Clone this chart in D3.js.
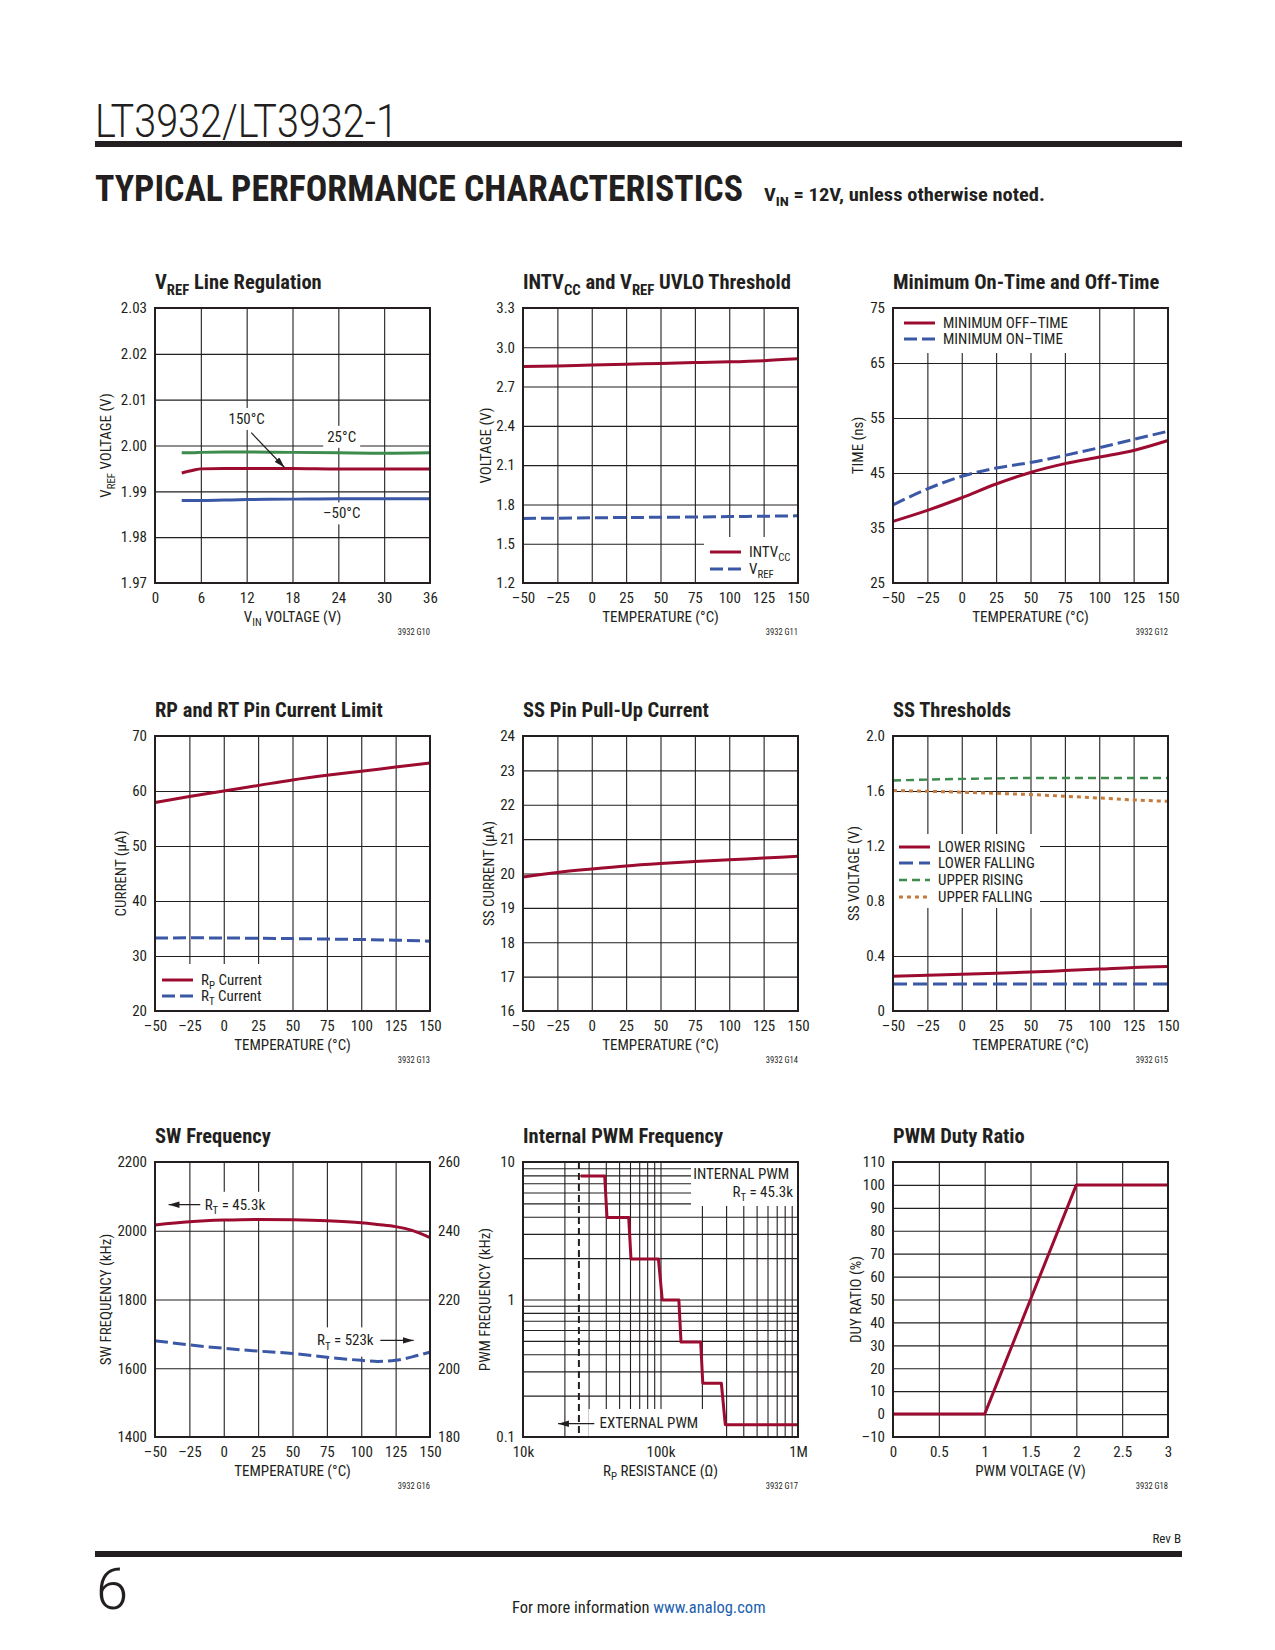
<!DOCTYPE html>
<html>
<head>
<meta charset="utf-8">
<script src="https://cdn.jsdelivr.net/npm/d3@7"></script>
<style>
  body { margin: 0; background: #fff; }
  text { font-family: "Liberation Sans Narrow", "Roboto Condensed", "DejaVu Sans Condensed", "Liberation Sans", sans-serif; fill: #231f20; }
</style>
</head>
<body>
<script>
// ---------- values ----------
// G10 VREF line regulation
const vinTicks = [0, 6, 12, 18, 24, 30, 36];
const vrefTicks = [1.97, 1.98, 1.99, 2.00, 2.01, 2.02, 2.03];
const vin = [3.5, 5, 6, 9, 12, 18, 24, 30, 36];
const vref150C = [1.9940, 1.9946, 1.9949, 1.9950, 1.9950, 1.9950, 1.9949, 1.9949, 1.9949];
const vref25C = [1.9984, 1.9984, 1.9985, 1.9986, 1.9986, 1.9985, 1.9984, 1.9983, 1.9984];
const vrefM50C = [1.9880, 1.9880, 1.9880, 1.9881, 1.9882, 1.9883, 1.9884, 1.9884, 1.9884];

// shared temperature axis
const tempTicks = [-50, -25, 0, 25, 50, 75, 100, 125, 150];
const temps = [-50, -25, 0, 25, 50, 75, 100, 125, 150];

// G11 UVLO thresholds
const uvloTicks = [1.2, 1.5, 1.8, 2.1, 2.4, 2.7, 3.0, 3.3];
const intvccUvlo = [2.853, 2.858, 2.865, 2.871, 2.877, 2.883, 2.889, 2.898, 2.912];
const vrefUvlo = [1.693, 1.695, 1.698, 1.700, 1.702, 1.704, 1.707, 1.710, 1.713];

// G12 min on/off time
const timeTicks = [25, 35, 45, 55, 65, 75];
const offTime = [36.2, 38.2, 40.5, 43.0, 45.1, 46.7, 47.9, 49.1, 50.9];
const onTime = [39.2, 42.1, 44.4, 45.9, 46.9, 48.2, 49.6, 51.1, 52.6];

// G13 RP / RT current limit
const currentTicks = [20, 30, 40, 50, 60, 70];
const rpCurrent = [57.9, 59.0, 60.0, 61.0, 62.0, 62.85, 63.6, 64.35, 65.1];
const rtCurrent = [33.28, 33.3, 33.28, 33.22, 33.16, 33.08, 33.0, 32.88, 32.7];

// G14 SS pull-up current
const ssCurrentTicks = [16, 17, 18, 19, 20, 21, 22, 23, 24];
const ssCurrent = [19.9, 20.03, 20.13, 20.22, 20.29, 20.35, 20.4, 20.45, 20.5];

// G15 SS thresholds
const ssVoltTicks = [0, 0.4, 0.8, 1.2, 1.6, 2.0];
const lowerRising = [0.253, 0.260, 0.268, 0.275, 0.283, 0.294, 0.305, 0.317, 0.324];
const lowerFalling = [0.197, 0.197, 0.197, 0.197, 0.197, 0.197, 0.197, 0.197, 0.197];
const upperRising = [1.676, 1.683, 1.688, 1.692, 1.695, 1.695, 1.695, 1.695, 1.695];
const upperFalling = [1.603, 1.598, 1.591, 1.583, 1.574, 1.562, 1.549, 1.535, 1.525];

// G16 SW frequency (left axis RT=45.3k, right axis RT=523k)
const swTicksL = [1400, 1600, 1800, 2000, 2200];
const swTicksR = [180, 200, 220, 240, 260];
const swTemps = [-50, -25, 0, 25, 50, 75, 100, 112, 125, 137, 150];
const sw45k = [2017, 2026, 2031, 2033, 2032, 2029, 2023, 2018, 2012, 2001, 1980];
const sw523k = [208.0, 206.8, 205.8, 205.0, 204.3, 203.2, 202.3, 202.0, 202.3, 203.3, 204.7];

// G17 internal PWM frequency
const pwmRTicks = [1e4, 1e5, 1e6];
const pwmRLabels = ["10k", "100k", "1M"];
const pwmFTicks = [0.1, 1, 10];
const pwmFLabels = ["0.1", "1", "10"];
const pwmR = [26.3e3, 39.3e3, 40.8e3, 58.7e3, 61e3, 96.6e3, 103e3, 136e3, 141e3, 196e3, 203e3, 277e3, 296e3, 1e6];
const pwmF = [7.9, 7.9, 3.95, 3.95, 1.97, 1.97, 0.99, 0.99, 0.49, 0.49, 0.246, 0.246, 0.123, 0.123];
const extPwmR = 25.5e3;

// G18 PWM duty ratio
const pwmVTicks = [0, 0.5, 1, 1.5, 2, 2.5, 3];
const dutyTicks = [-10, 0, 10, 20, 30, 40, 50, 60, 70, 80, 90, 100, 110];
const pwmV = [0, 1, 2, 3];
const duty = [0, 0, 100, 100];

// ---------- page ----------
const RED = "#9c0c30", BLUE = "#3b58a6", GREEN = "#3d8b4d", ORANGE = "#c67a3c", INK = "#231f20";
const W = 275, H = 275;
const FS = 15;            // tick / legend / axis title size
const colX = [155, 523, 893], rowY = [308, 736, 1162];
const fmtT = v => (v < 0 ? "\u2013" + Math.abs(v) : String(v));

const svg = d3.select("body").append("svg").attr("width", 1275).attr("height", 1650);

svg.append("defs").append("marker")
  .attr("id", "arr").attr("viewBox", "0 0 10 6").attr("refX", 10).attr("refY", 3)
  .attr("markerWidth", 11).attr("markerHeight", 6.5).attr("markerUnits", "userSpaceOnUse").attr("orient", "auto")
  .append("path").attr("d", "M0,0L10,3L0,6Z").attr("fill", INK);

// header
svg.append("text").attr("x", 95).attr("y", 137).text("LT3932/LT3932-1")
  .style("font-family", "Roboto, 'Liberation Sans', sans-serif").attr("font-weight", 300).attr("font-size", 46)
  .attr("textLength", 303).attr("lengthAdjust", "spacingAndGlyphs");
svg.append("rect").attr("x", 95).attr("y", 141).attr("width", 1087).attr("height", 6).attr("fill", INK);
svg.append("text").attr("x", 95).attr("y", 201).text("TYPICAL PERFORMANCE CHARACTERISTICS")
  .attr("font-weight", "bold").attr("font-size", 37)
  .attr("textLength", 648).attr("lengthAdjust", "spacingAndGlyphs");
const sub1 = svg.append("text").attr("x", 764).attr("y", 201).attr("font-weight", "bold").attr("font-size", 18.5)
  .attr("textLength", 281).attr("lengthAdjust", "spacingAndGlyphs");
rich(sub1, ["V", { s: "IN" }, " = 12V, unless otherwise noted."], 18.5);

// footer
svg.append("text").attr("x", 1181).attr("y", 1543).attr("text-anchor", "end").attr("font-size", 13).text("Rev B");
svg.append("rect").attr("x", 95).attr("y", 1551).attr("width", 1087).attr("height", 6).attr("fill", INK);
svg.append("text").attr("x", 96).attr("y", 1609).text("6")
  .style("font-family", "Roboto, 'Liberation Sans', sans-serif").attr("font-weight", 300).attr("font-size", 58);
const foot = svg.append("text").attr("x", 512).attr("y", 1613).attr("font-size", 16.5);
foot.append("tspan").text("For more information ");
foot.append("tspan").text("www.analog.com").style("fill", "#1d5fae");

// ---------- helpers ----------
function rich(t, parts, size) {
  let down = false;
  parts.forEach(p => {
    const isSub = typeof p === "object";
    const ts = t.append("tspan").text(isSub ? p.s : p);
    if (isSub) {
      ts.attr("font-size", size * 0.72);
      if (!down) ts.attr("dy", size * 0.28);
      down = true;
    } else if (down) {
      ts.attr("dy", -size * 0.28);
      down = false;
    }
  });
  return t;
}

function panel(col, row, x, y) {
  x.range([0, W]);
  y.range([H, 0]);
  const g = svg.append("g").attr("transform", `translate(${colX[col]},${rowY[row]})`);
  return { g, x, y, grid: g.append("g"), mask: g.append("g"), data: g.append("g"), anno: g.append("g") };
}

function grid(p, xv, yv) {
  p.grid.append("g").attr("transform", `translate(0,${H})`)
    .call(d3.axisBottom(p.x).tickValues(xv).tickSize(-H).tickFormat(""));
  p.grid.append("g").call(d3.axisLeft(p.y).tickValues(yv).tickSize(-W).tickFormat(""));
  p.grid.selectAll(".domain").remove();
  p.grid.selectAll("line").attr("stroke", INK).attr("stroke-width", 1.1);
}

function axes(p, xv, xf, yv, yf) {
  const gx = p.g.append("g").attr("transform", `translate(0,${H})`)
    .call(d3.axisBottom(p.x).tickValues(xv).tickFormat(xf).tickSize(0).tickPadding(9));
  const gy = p.g.append("g").call(d3.axisLeft(p.y).tickValues(yv).tickFormat(yf).tickSize(0).tickPadding(8));
  [gx, gy].forEach(a => {
    a.select(".domain").remove();
    a.attr("font-family", null).attr("font-size", FS);
    a.selectAll("text").style("fill", INK);
  });
  return gy;
}

function frame(p) {
  p.g.append("rect").attr("width", W).attr("height", H)
    .attr("fill", "none").attr("stroke", INK).attr("stroke-width", 2);
}

function labels(p, title, xTitle, yTitle, yOff, code) {
  rich(p.g.append("text").attr("x", 0).attr("y", -19).attr("font-weight", "bold").attr("font-size", 20.5), title, 20.5);
  rich(p.g.append("text").attr("x", W / 2).attr("y", H + 39).attr("text-anchor", "middle").attr("font-size", FS), xTitle, FS);
  rich(p.g.append("text").attr("transform", `translate(${yOff},${H / 2}) rotate(-90)`)
    .attr("text-anchor", "middle").attr("dy", "0.35em").attr("font-size", FS), yTitle, FS);
  p.g.append("text").attr("x", W).attr("y", H + 52).attr("text-anchor", "end").attr("font-size", 8.5).text(code);
}

function curve(p, xs, ys, color, opts = {}) {
  const ys2 = opts.y || p.y;
  const line = d3.line()
    .x(d => p.x(xs[d]))
    .y(d => ys2(ys[d]))
    .curve(opts.curve || d3.curveMonotoneX);
  p.data.append("path").attr("d", line(d3.range(xs.length)))
    .attr("fill", "none").attr("stroke", color)
    .attr("stroke-width", opts.width || 3)
    .attr("stroke-dasharray", opts.dash || null)
    .attr("stroke-linejoin", "round");
}

// label in data coordinates, with a white box behind it that hides the grid
function note(p, xv, yv, parts, anchor, pad) {
  const t = p.anno.append("text").attr("x", p.x(xv)).attr("y", p.y(yv))
    .attr("text-anchor", anchor || "start").attr("font-size", FS);
  rich(t, parts, FS);
  const b = t.node().getBBox();
  const pd = pad || [4, 2, 4, 2];
  p.mask.append("rect").attr("x", b.x - pd[0]).attr("y", b.y - pd[1])
    .attr("width", b.width + pd[0] + pd[2]).attr("height", b.height + pd[1] + pd[3]).attr("fill", "#fff");
  return t;
}

function arrow(p, x1, y1, x2, y2, ys) {
  const yy = ys || p.y;
  p.anno.append("line").attr("x1", p.x(x1)).attr("y1", yy(y1)).attr("x2", p.x(x2)).attr("y2", yy(y2))
    .attr("stroke", INK).attr("stroke-width", 1.2).attr("marker-end", "url(#arr)");
}

// legend box (layout in panel pixels)
function legend(p, box, rows) {
  p.mask.append("rect").attr("x", box[0]).attr("y", box[1]).attr("width", box[2]).attr("height", box[3]).attr("fill", "#fff");
  rows.forEach(r => {
    p.anno.append("line").attr("x1", r.x).attr("x2", r.x + 31).attr("y1", r.y).attr("y2", r.y)
      .attr("stroke", r.color).attr("stroke-width", r.width || 3).attr("stroke-dasharray", r.dash || null);
    rich(p.anno.append("text").attr("x", r.x + 39).attr("y", r.y + 5).attr("font-size", FS), r.text, FS);
  });
}

const inner = a => a.slice(1, -1);

// ---------- G10 ----------
{
  const p = panel(0, 0, d3.scaleLinear().domain([0, 36]), d3.scaleLinear().domain([1.97, 2.03]));
  grid(p, inner(vinTicks), inner(vrefTicks));
  axes(p, vinTicks, d3.format("d"), vrefTicks, d3.format(".2f"));
  curve(p, vin, vref25C, GREEN);
  curve(p, vin, vref150C, RED);
  curve(p, vin, vrefM50C, BLUE);
  note(p, 12.0, 2.0047, ["150°C"], "middle");
  arrow(p, 12.6, 2.0028, 16.95, 1.9952);
  note(p, 24.44, 2.0008, ["25°C"], "middle");
  note(p, 24.44, 1.9841, ["\u201350°C"], "middle");
  frame(p);
  labels(p, ["V", { s: "REF" }, " Line Regulation"], ["V", { s: "IN" }, " VOLTAGE (V)"], ["V", { s: "REF" }, " VOLTAGE (V)"], -49, "3932 G10");
}

// ---------- G11 ----------
{
  const p = panel(1, 0, d3.scaleLinear().domain([-50, 150]), d3.scaleLinear().domain([1.2, 3.3]));
  grid(p, inner(tempTicks), inner(uvloTicks));
  axes(p, tempTicks, fmtT, uvloTicks, d3.format(".1f"));
  curve(p, temps, intvccUvlo, RED);
  curve(p, temps, vrefUvlo, BLUE, { dash: "13,5" });
  legend(p, [181, 229, 94, 46], [
    { x: 187, y: 244, color: RED, text: ["INTV", { s: "CC" }] },
    { x: 187, y: 261, color: BLUE, dash: "13,5", text: ["V", { s: "REF" }] }
  ]);
  frame(p);
  labels(p, ["INTV", { s: "CC" }, " and V", { s: "REF" }, " UVLO Threshold"], ["TEMPERATURE (°C)"], ["VOLTAGE (V)"], -37, "3932 G11");
}

// ---------- G12 ----------
{
  const p = panel(2, 0, d3.scaleLinear().domain([-50, 150]), d3.scaleLinear().domain([25, 75]));
  grid(p, inner(tempTicks), inner(timeTicks));
  axes(p, tempTicks, fmtT, timeTicks, d3.format("d"));
  curve(p, temps, offTime, RED);
  curve(p, temps, onTime, BLUE, { dash: "13,5" });
  legend(p, [0, 0, 182, 45], [
    { x: 11, y: 15, color: RED, text: ["MINIMUM OFF\u2013TIME"] },
    { x: 11, y: 31, color: BLUE, dash: "13,5", text: ["MINIMUM ON\u2013TIME"] }
  ]);
  frame(p);
  labels(p, ["Minimum On-Time and Off-Time"], ["TEMPERATURE (°C)"], ["TIME (ns)"], -35, "3932 G12");
}

// ---------- G13 ----------
{
  const p = panel(0, 1, d3.scaleLinear().domain([-50, 150]), d3.scaleLinear().domain([20, 70]));
  grid(p, inner(tempTicks), inner(currentTicks));
  axes(p, tempTicks, fmtT, currentTicks, d3.format("d"));
  curve(p, temps, rpCurrent, RED);
  curve(p, temps, rtCurrent, BLUE, { dash: "13,5" });
  legend(p, [0, 228, 119, 47], [
    { x: 7, y: 244, color: RED, text: ["R", { s: "P" }, " Current"] },
    { x: 7, y: 260, color: BLUE, dash: "13,5", text: ["R", { s: "T" }, " Current"] }
  ]);
  frame(p);
  labels(p, ["RP and RT Pin Current Limit"], ["TEMPERATURE (°C)"], ["CURRENT (\u03bcA)"], -34, "3932 G13");
}

// ---------- G14 ----------
{
  const p = panel(1, 1, d3.scaleLinear().domain([-50, 150]), d3.scaleLinear().domain([16, 24]));
  grid(p, inner(tempTicks), inner(ssCurrentTicks));
  axes(p, tempTicks, fmtT, ssCurrentTicks, d3.format("d"));
  curve(p, temps, ssCurrent, RED);
  frame(p);
  labels(p, ["SS Pin Pull-Up Current"], ["TEMPERATURE (°C)"], ["SS CURRENT (\u03bcA)"], -34, "3932 G14");
}

// ---------- G15 ----------
{
  const p = panel(2, 1, d3.scaleLinear().domain([-50, 150]), d3.scaleLinear().domain([0, 2]));
  grid(p, inner(tempTicks), inner(ssVoltTicks));
  axes(p, tempTicks, fmtT, ssVoltTicks, v => (v === 0 ? "0" : d3.format(".1f")(v)));
  curve(p, temps, upperRising, GREEN, { dash: "8,5", width: 2.4 });
  curve(p, temps, upperFalling, ORANGE, { dash: "4,4" });
  curve(p, temps, lowerRising, RED);
  curve(p, temps, lowerFalling, BLUE, { dash: "14,6" });
  legend(p, [0, 98, 147, 74], [
    { x: 6, y: 111, color: RED, text: ["LOWER RISING"] },
    { x: 6, y: 127, color: BLUE, dash: "14,6", text: ["LOWER FALLING"] },
    { x: 6, y: 144, color: GREEN, dash: "8,5", width: 2.4, text: ["UPPER RISING"] },
    { x: 6, y: 161, color: ORANGE, dash: "4,4", text: ["UPPER FALLING"] }
  ]);
  frame(p);
  labels(p, ["SS Thresholds"], ["TEMPERATURE (°C)"], ["SS VOLTAGE (V)"], -39, "3932 G15");
}

// ---------- G16 ----------
{
  const p = panel(0, 2, d3.scaleLinear().domain([-50, 150]), d3.scaleLinear().domain([1400, 2200]));
  const yR = d3.scaleLinear().domain([180, 260]).range([H, 0]);
  grid(p, inner(tempTicks), inner(swTicksL));
  axes(p, tempTicks, fmtT, swTicksL, d3.format("d"));
  const gr = p.g.append("g").attr("transform", `translate(${W},0)`)
    .call(d3.axisRight(yR).tickValues(swTicksR).tickFormat(d3.format("d")).tickSize(0).tickPadding(8));
  gr.select(".domain").remove();
  gr.attr("font-family", null).attr("font-size", FS);
  gr.selectAll("text").style("fill", INK);
  curve(p, swTemps, sw45k, RED);
  curve(p, swTemps, sw523k, BLUE, { dash: "13,5", y: yR });
  note(p, -13.9, 2061, ["R", { s: "T" }, " = 45.3k"], "start", [3, 4, 4, 4]);
  arrow(p, -17.1, 2076, -40.1, 2076);
  note(p, 67.8, 1666.5, ["R", { s: "T" }, " = 523k"], "start", [3, 4, 4, 4]);
  arrow(p, 113.9, 1681, 138.1, 1681);
  frame(p);
  labels(p, ["SW Frequency"], ["TEMPERATURE (°C)"], ["SW FREQUENCY (kHz)"], -49, "3932 G16");
}

// ---------- G17 ----------
{
  const p = panel(1, 2, d3.scaleLog().domain([1e4, 1e6]), d3.scaleLog().domain([0.1, 10]));
  const xg = [1e4, 1e5].flatMap(d => d3.range(2, 10).map(k => k * d)).concat([1e5]);
  const yg = [0.1, 1].flatMap(d => d3.range(2, 10).map(k => k * d)).concat([1]);
  grid(p, xg, yg);
  axes(p, pwmRTicks, (d, i) => pwmRLabels[i], pwmFTicks, (d, i) => pwmFLabels[i]);
  p.data.append("line").attr("x1", p.x(extPwmR)).attr("x2", p.x(extPwmR)).attr("y1", p.y(10)).attr("y2", p.y(0.1))
    .attr("stroke", INK).attr("stroke-width", 2).attr("stroke-dasharray", "7,4");
  curve(p, pwmR, pwmF, RED, { curve: d3.curveLinear });
  p.mask.append("rect").attr("x", 168).attr("y", 0).attr("width", 107).attr("height", 44).attr("fill", "#fff");
  p.anno.append("text").attr("x", p.x(8.6e5)).attr("y", p.y(7.5)).attr("text-anchor", "end").attr("font-size", FS).text("INTERNAL PWM");
  rich(p.anno.append("text").attr("x", p.x(9.2e5)).attr("y", p.y(5.6)).attr("text-anchor", "end").attr("font-size", FS),
    ["R", { s: "T" }, " = 45.3k"], FS);
  note(p, 36e3, 0.1163, ["EXTERNAL PWM"], "start", [11, 5, 5, 10]);
  arrow(p, 33e3, 0.125, 18e3, 0.125);
  frame(p);
  labels(p, ["Internal PWM Frequency"], ["R", { s: "P" }, " RESISTANCE (\u03a9)"], ["PWM FREQUENCY (kHz)"], -38, "3932 G17");
}

// ---------- G18 ----------
{
  const p = panel(2, 2, d3.scaleLinear().domain([0, 3]), d3.scaleLinear().domain([-10, 110]));
  grid(p, inner(pwmVTicks), inner(dutyTicks));
  axes(p, pwmVTicks, d3.format("~g"), dutyTicks, fmtT);
  curve(p, pwmV, duty, RED, { curve: d3.curveLinear });
  frame(p);
  labels(p, ["PWM Duty Ratio"], ["PWM VOLTAGE (V)"], ["DUY RATIO (%)"], -37, "3932 G18");
}
</script>
</body>
</html>
